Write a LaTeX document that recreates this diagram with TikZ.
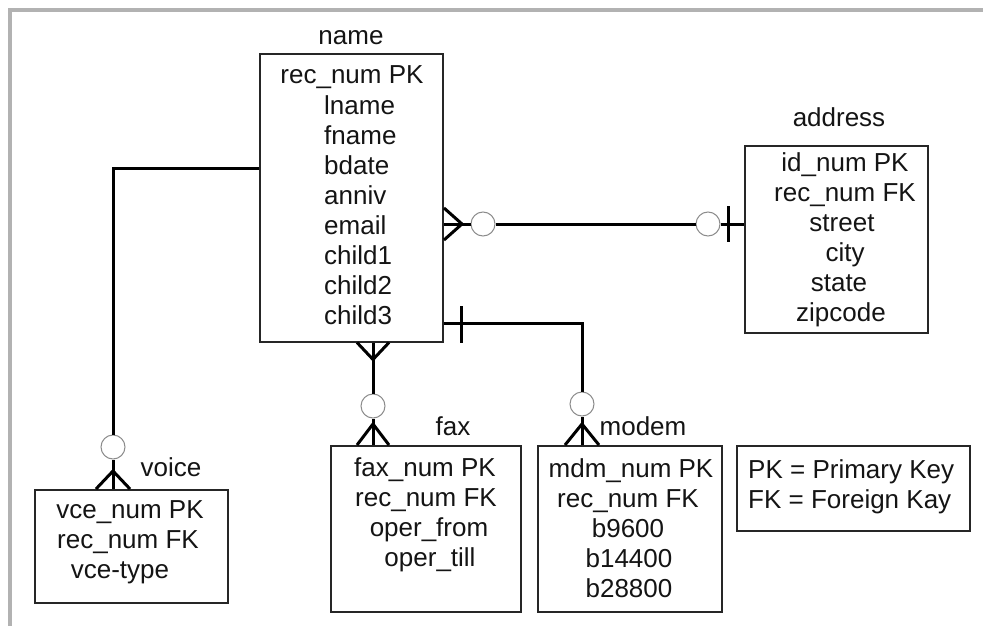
\documentclass[tikz,border=0pt]{standalone}
\usepackage{fontspec}
\setmainfont{Liberation Sans}
\begin{document}
\begin{tikzpicture}[x=1pt,y=-1pt,
  ent/.style={draw=black!85, line width=2pt, inner sep=0pt, rectangle},
  t/.style={inner sep=0pt, anchor=base, text=black!92, font=\fontsize{26}{30}\selectfont},
  tl/.style={t, anchor=base west},
  conn/.style={line width=3pt, draw=black},
  opt/.style={circle, draw=black!45, line width=1pt, fill=white, minimum size=24pt, inner sep=0pt}]
\useasboundingbox (0,0) rectangle (983,626);
% frame
\fill[black!30] (8,8) rectangle (983,12);
\fill[black!30] (8,8) rectangle (12,626);

% entity boxes
\node[ent, minimum width=183pt, minimum height=287pt] (name) at (351.5,198) {};
\node[ent, minimum width=183pt, minimum height=187pt] (address) at (836.5,239.5) {};
\node[ent, minimum width=193pt, minimum height=113pt] (voice) at (131.5,546.5) {};
\node[ent, minimum width=190pt, minimum height=166pt] (fax) at (426,529) {};
\node[ent, minimum width=184pt, minimum height=166pt] (modem) at (629.5,529) {};
\node[ent, minimum width=233pt, minimum height=85pt] (legend) at (853.5,488) {};

% titles
\node[t] (tname) at (351,45) {name};
\node[t] (taddress) at (839,126) {address};
\node[t] (tvoice) at (171,476) {voice};
\node[t] (tfax) at (453,435) {fax};
\node[t] (tmodem) at (643,435) {modem};

% name rows
\node[t] (n1) at (352,84) {rec\_num PK};
\node[tl] (n2) at (324,114) {lname};
\node[tl] (n3) at (324,144) {fname};
\node[tl] (n4) at (324,174) {bdate};
\node[tl] (n5) at (324,204) {anniv};
\node[tl] (n6) at (324,234) {email};
\node[tl] (n7) at (324,264) {child1};
\node[tl] (n8) at (324,294) {child2};
\node[tl] (n9) at (324,324) {child3};

% address rows
\node[t] (a1) at (845,171) {id\_num PK};
\node[t] (a2) at (845,201) {rec\_num FK};
\node[t] (a3) at (842,231) {street};
\node[t] (a4) at (845,261) {city};
\node[t] (a5) at (839,291) {state};
\node[t] (a6) at (841,321) {zipcode};

% voice rows
\node[t] (v1) at (130,518) {vce\_num PK};
\node[t] (v2) at (128,548) {rec\_num FK};
\node[t] (v3) at (120,578) {vce-type};

% fax rows
\node[t] (f1) at (425,476) {fax\_num PK};
\node[t] (f2) at (426,506) {rec\_num FK};
\node[t] (f3) at (429,536) {oper\_from};
\node[t] (f4) at (430,566) {oper\_till};

% modem rows
\node[t] (m1) at (631,477) {mdm\_num PK};
\node[t] (m2) at (628,507) {rec\_num FK};
\node[t] (m3) at (628,537) {b9600};
\node[t] (m4) at (629,567) {b14400};
\node[t] (m5) at (629,597) {b28800};

% legend
\node[tl] (l1) at (748,478) {PK = Primary Key};
\node[tl] (l2) at (748,508) {FK = Foreign Kay};

% optionality circles
\node[opt] (o1) at (483,224) {};
\node[opt] (o2) at (708,224) {};
\node[opt] (o3) at (113,447) {};
\node[opt] (o4) at (373,406) {};
\node[opt] (o5) at (582,404) {};

% name -- address
\draw[conn] (o1 -| name.east) -- (o1);
\draw[conn] (o1) -- (o2);
\draw[conn] (o2) -- (o2 -| address.west);
\draw[conn] (o1 -| name.east) ++(0,-16) -- ++(18,16) -- ++(-18,16);
\draw[conn] (o2 -| address.west) ++(-16,-18) -- ++(0,36);

% name -- voice
\draw[conn] (name.west |- 0,168) -| (o3);
\draw[conn] (o3) -- (o3 |- voice.north);
\draw[conn] (o3 |- voice.north) ++(-17,0) -- ++(17,-18) -- ++(17,18);

% name -- fax
\draw[conn] (o4 |- name.south) -- (o4);
\draw[conn] (o4) -- (o4 |- fax.north);
\draw[conn] (o4 |- name.south) ++(-16,0) -- ++(16,17) -- ++(16,-17);
\draw[conn] (o4 |- fax.north) ++(-16,0) -- ++(16,-21) -- ++(16,21);

% name -- modem
\draw[conn] (name.east |- 0,323) -| (o5);
\draw[conn] (o5) -- (o5 |- modem.north);
\draw[conn] (name.east |- 0,323) ++(17,-17) -- ++(0,37);
\draw[conn] (o5 |- modem.north) ++(-17,0) -- ++(17,-21) -- ++(17,21);
\end{tikzpicture}
\end{document}
